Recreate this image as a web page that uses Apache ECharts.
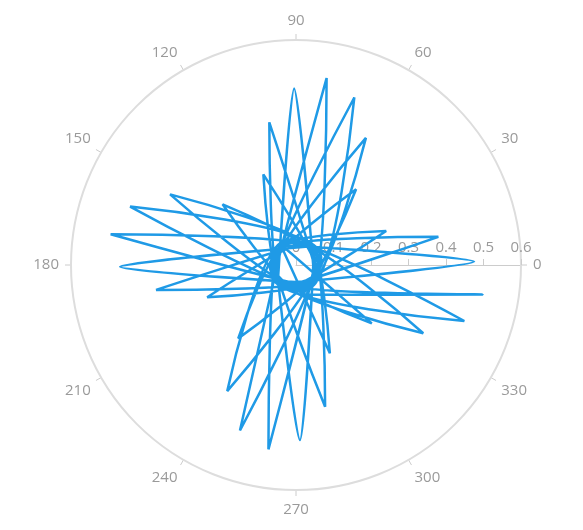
<!DOCTYPE html>
<html><head><meta charset="utf-8">
<script src="https://cdn.jsdelivr.net/npm/echarts@6/dist/echarts.min.js"></script>
<style>html,body{margin:0;padding:0;background:#fff}#c{width:583px;height:530px}</style>
</head><body><div id="c"></div>
<script>
// path: radius and angle (degrees) of each vertex
const radii = [0.08,
 0.504,0.07,0.505,0.07,0.501,0.07,0.497,0.07,
 0.475,0.07,0.471,0.07,0.469,0.07,0.467,0.07,
 0.387,0.07,0.387,0.07,0.379,0.07,0.386,0.07,
 0.257,0.07,0.257,0.07,0.252,0.07,0.252,0.07,
 0.255,0.07,0.258,0.07,0.254,0.07,0.249,0.07,
 0.385,0.07,0.387,0.07,0.385,0.07,0.383,0.07,
 0.473,0.07,0.473,0.07,0.469,0.07,0.466,0.07];
const angles = [277,
 351,215.9,80.7,305.7,170.6,36,261.5,131.3,
 1.1,225.9,90.6,315.6,180.6,46,271.3,141.3,
 11.2,235.9,100.6,325.4,190.1,55.9,281.6,151.2,
 20.7,245.3,109.8,334.9,200,65.5,291,126.7,
 322.4,187,51.6,276,140.4,6.1,231.8,101.8,
 331.8,196.5,61.2,286,150.7,16,241.4,111.5,
 341.6,206.2,70.8,295.7,160.6,26,251.3,121.2];
const radiusTicks = [0,0.1,0.2,0.3,0.4,0.5,0.6];
const data = radii.map((r,i)=>[r, angles[i]]);
const chart = echarts.init(document.getElementById('c'));
const grey = '#9a9a9a';
chart.setOption({
  animation:false,
  polar:{center:[296,265], radius:225},
  angleAxis:{type:'value', min:0, max:360, interval:30, startAngle:0, clockwise:false,
    axisLine:{lineStyle:{color:'#dddddd', width:2}},
    axisTick:{show:true, length:6, lineStyle:{color:'#cccccc'}},
    axisLabel:{color:grey, fontSize:15, fontFamily:'Open Sans', margin:12},
    splitLine:{show:false}},
  radiusAxis:{type:'value', min:0, max:0.6, interval:0.1,
    axisLine:{lineStyle:{color:'#cccccc'}},
    axisTick:{show:true, length:6, inside:true, lineStyle:{color:'#cccccc'}},
    axisLabel:{color:grey, fontSize:15, fontFamily:'Open Sans', margin:10,
      formatter:v=>radiusTicks.includes(+v.toFixed(1))? String(+v.toFixed(1)):''},
    splitLine:{show:false}},
  series:[{type:'line', coordinateSystem:'polar', data:data, showSymbol:false, smooth:0.25,
    lineStyle:{color:'#1f9ae6', width:2.5}}]
});
</script></body></html>
